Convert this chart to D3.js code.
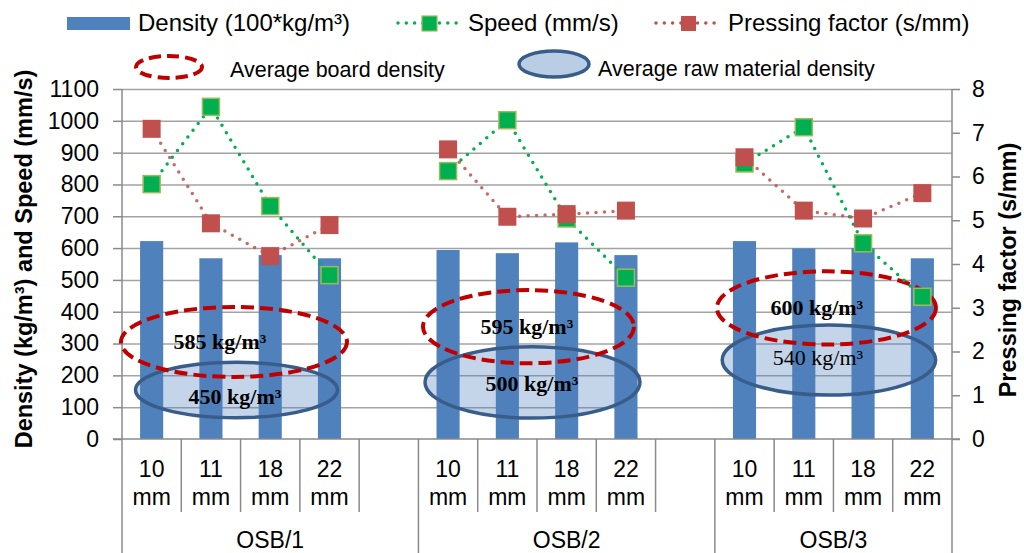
<!DOCTYPE html>
<html><head><meta charset="utf-8">
<script src="https://cdnjs.cloudflare.com/ajax/libs/d3/7.8.5/d3.min.js"></script>
<style>body{margin:0;background:#fff}svg{display:block;font-family:"Liberation Sans",Arial,sans-serif}</style>
</head><body><svg id="c" width="1024" height="553"></svg>
<script>
// ---- data ----
const groups = ["OSB/1", "OSB/2", "OSB/3"];
const thicknesses = ["10", "11", "18", "22"];
const unitLabel = "mm";
const density = [[622, 568, 578, 568], [594, 584, 618, 578], [622, 599, 600, 568]];
const speed = [[801, 1044, 732, 515], [842, 1002, 693, 507], [866, 980, 615, 447]];
const pressing = [[7.09, 4.93, 4.18, 4.89], [6.62, 5.08, 5.14, 5.22], [6.44, 5.22, 5.04, 5.62]];
const leftTicks = [0, 100, 200, 300, 400, 500, 600, 700, 800, 900, 1000, 1100];
const rightTicks = [0, 1, 2, 3, 4, 5, 6, 7, 8];
const seriesNames = ["Density (100*kg/m³)", "Speed (mm/s)", "Pressing factor (s/mm)"];
const noteNames = ["Average board density", "Average raw material density"];
// annotation ellipses: centre/radius in slot units (x) and left-axis units (y)
const boardNotes = [
  {label: "585 kg/m³", cx: 1.889, cy: 305, rx: 1.906, ry: 110, lx: 1.653, ly: 307},
  {label: "595 kg/m³", cx: 6.856, cy: 353, rx: 1.779, ry: 115, lx: 6.83, ly: 355},
  {label: "600 kg/m³", cx: 11.882, cy: 412, rx: 1.847, ry: 115, lx: 11.72, ly: 412}
];
const rawNotes = [
  {label: "450 kg/m³", cx: 1.931, cy: 154, rx: 1.703, ry: 87, lx: 1.906, ly: 135, bold: true},
  {label: "500 kg/m³", cx: 6.924, cy: 178, rx: 1.813, ry: 112, lx: 6.915, ly: 176, bold: true},
  {label: "540 kg/m³", cx: 11.924, cy: 248, rx: 1.8, ry: 110, lx: 11.74, ly: 255, bold: false}
];

// ---- layout ----
const svg = d3.select("#c");
const L = 122, R = 952, T = 89, B = 439;
const colBar = "#4F81BD", colSpeed = "#00B050", colPress = "#C0504D", colBoard = "#C00000", colRaw = "#385D8A";
const FONT = "Liberation Sans, Arial, sans-serif";

// slots: 4 thickness per group + blank between groups
const slots = [];
groups.forEach((g, gi) => {
  thicknesses.forEach((t, ti) => slots.push({id: g + "|" + t, g, gi, t, ti}));
  if (gi < groups.length - 1) slots.push({id: "blank" + gi, blank: true, gi});
});
const x = d3.scaleBand().domain(slots.map(s => s.id)).range([L, R]).paddingInner(0).paddingOuter(0);
const slotX = d3.scaleLinear().domain([0, slots.length]).range([L, R]);
const y = d3.scaleLinear().domain([0, 1100]).range([B, T]);
const y2 = d3.scaleLinear().domain([0, 8]).range([B, T]);
const bw = x.bandwidth();

// gridlines
svg.append("g").attr("transform", `translate(${L},0)`)
  .call(d3.axisLeft(y).tickValues(leftTicks.slice(1)).tickSize(-(R - L)).tickFormat(""))
  .call(g => g.select(".domain").remove())
  .call(g => g.selectAll("line").attr("stroke", "#a3a3a3").attr("stroke-width", 1.5));

// bars
const rows = [];
groups.forEach((g, gi) => thicknesses.forEach((t, ti) => rows.push({
  id: g + "|" + t, gi, ti, d: density[gi][ti], s: speed[gi][ti], p: pressing[gi][ti]})));
const barW = bw * 0.39;
svg.append("g").selectAll("rect").data(rows).join("rect")
  .attr("x", d => x(d.id) + (bw - barW) / 2).attr("width", barW)
  .attr("y", d => y(d.d)).attr("height", d => y(0) - y(d.d)).attr("fill", colBar);

// left axis
svg.append("g").attr("transform", `translate(${L},0)`)
  .call(d3.axisLeft(y).tickValues(leftTicks).tickSize(9).tickPadding(14).tickFormat(d3.format("d")))
  .call(g => g.select(".domain").remove())
  .call(g => g.selectAll("line").attr("stroke", "#8a8a8a").attr("stroke-width", 1.5))
  .call(g => g.selectAll("text").attr("font-size", 23).attr("fill", "#000").attr("font-family", FONT));
// right axis
svg.append("g").attr("transform", `translate(${R},0)`)
  .call(d3.axisRight(y2).tickValues(rightTicks).tickSize(8).tickPadding(12).tickFormat(d3.format("d")))
  .call(g => g.select(".domain").remove())
  .call(g => g.selectAll("line").attr("stroke", "#8a8a8a").attr("stroke-width", 1.5))
  .call(g => g.selectAll("text").attr("font-size", 23).attr("fill", "#000").attr("font-family", FONT));

// axis frame lines
const ax = svg.append("g").attr("stroke", "#8a8a8a").attr("stroke-width", 1.5);
ax.append("line").attr("x1", L).attr("x2", L).attr("y1", T).attr("y2", 553);
ax.append("line").attr("x1", R).attr("x2", R).attr("y1", T).attr("y2", 553);
ax.append("line").attr("x1", L - 9).attr("x2", R + 8).attr("y1", B).attr("y2", B);
// category separators
slots.forEach((s, i) => {
  if (i === 0) return;
  const xx = x(s.id);
  const full = !s.blank && s.ti === 0;
  ax.append("line").attr("x1", xx).attr("x2", xx).attr("y1", B).attr("y2", full ? 553 : 512);
});

// category labels
const cl = svg.append("g").attr("font-size", 23).attr("text-anchor", "middle").attr("fill", "#000");
slots.filter(s => !s.blank).forEach(s => {
  const cx = x(s.id) + bw / 2;
  cl.append("text").attr("x", cx).attr("y", 477).text(s.t);
  cl.append("text").attr("x", cx).attr("y", 505).text(unitLabel);
});
groups.forEach((g, gi) => {
  const first = x(g + "|" + thicknesses[0]);
  const last = x(g + "|" + thicknesses[thicknesses.length - 1]) + bw;
  const gEnd = gi < groups.length - 1 ? x("blank" + gi) + bw : last;
  cl.append("text").attr("x", (first + gEnd) / 2).attr("y", 548).text(g);
});

// annotation ellipses
function drawNotes(notes, raw) {
  const gN = svg.append("g");
  gN.selectAll("ellipse").data(notes).join("ellipse")
    .attr("cx", d => slotX(d.cx)).attr("cy", d => y(d.cy))
    .attr("rx", d => slotX(d.rx) - slotX(0)).attr("ry", d => y(0) - y(d.ry))
    .attr("fill", raw ? colBar : "none").attr("fill-opacity", raw ? 0.33 : 0)
    .attr("stroke", raw ? colRaw : colBoard).attr("stroke-width", raw ? 3.5 : 4)
    .attr("stroke-dasharray", raw ? null : "13 6");
  return gN;
}
drawNotes(rawNotes, true);
drawNotes(boardNotes, false);

// lines
const lineS = d3.line().x(d => x(d.id) + bw / 2).y(d => y(d.s));
const lineP = d3.line().x(d => x(d.id) + bw / 2).y(d => y2(d.p));
groups.forEach((g, gi) => {
  const rs = rows.filter(r => r.gi === gi);
  svg.append("path").attr("d", lineS(rs)).attr("fill", "none").attr("stroke", colSpeed)
    .attr("stroke-width", 3.5).attr("stroke-linecap", "round").attr("stroke-dasharray", "0 8.5");
});
const ms = 17;
svg.append("g").selectAll("rect").data(rows).join("rect")
  .attr("x", d => x(d.id) + bw / 2 - ms / 2).attr("y", d => y(d.s) - ms / 2)
  .attr("width", ms).attr("height", ms).attr("fill", colSpeed).attr("stroke", "#9BBB59").attr("stroke-width", 1.5);
groups.forEach((g, gi) => {
  const rs = rows.filter(r => r.gi === gi);
  svg.append("path").attr("d", lineP(rs)).attr("fill", "none").attr("stroke", colPress)
    .attr("stroke-opacity", 0.85)
    .attr("stroke-width", 3.5).attr("stroke-linecap", "round").attr("stroke-dasharray", "0 8.5");
});
svg.append("g").selectAll("rect").data(rows).join("rect")
  .attr("x", d => x(d.id) + bw / 2 - 9).attr("y", d => y2(d.p) - 9)
  .attr("width", 18).attr("height", 18).attr("fill", colPress);

// note labels
const nl = svg.append("g").attr("font-family", "Liberation Serif, Times New Roman, serif")
  .attr("font-size", 22).attr("text-anchor", "middle").attr("dominant-baseline", "central").attr("fill", "#000");
boardNotes.concat(rawNotes).forEach(d => {
  nl.append("text").attr("x", slotX(d.lx)).attr("y", y(d.ly))
    .attr("font-weight", d.bold === false ? "normal" : "bold").text(d.label);
});

// axis titles
svg.append("text").attr("transform", `translate(32,259) rotate(-90)`)
  .attr("text-anchor", "middle").attr("font-size", 23.5).attr("font-weight", "bold").attr("fill", "#000")
  .text("Density (kg/m³) and Speed (mm/s)");
svg.append("text").attr("transform", `translate(1016,270) rotate(-90)`)
  .attr("text-anchor", "middle").attr("font-size", 23.5).attr("font-weight", "bold").attr("fill", "#000")
  .text("Pressing factor (s/mm)");

// legend
const lg = svg.append("g").attr("fill", "#000");
lg.append("rect").attr("x", 67).attr("y", 17).attr("width", 63).attr("height", 13).attr("fill", colBar);
lg.append("text").attr("x", 138).attr("y", 31).attr("font-size", 24).text(seriesNames[0]);
lg.append("line").attr("x1", 398).attr("x2", 458).attr("y1", 23).attr("y2", 23)
  .attr("stroke", colSpeed).attr("stroke-width", 3.5).attr("stroke-linecap", "round").attr("stroke-dasharray", "0 8.3");
lg.append("rect").attr("x", 422).attr("y", 16).attr("width", 15).attr("height", 15)
  .attr("fill", colSpeed).attr("stroke", "#9BBB59").attr("stroke-width", 1.2);
lg.append("text").attr("x", 468).attr("y", 31).attr("font-size", 24).text(seriesNames[1]);
lg.append("line").attr("x1", 656).attr("x2", 718).attr("y1", 23).attr("y2", 23)
  .attr("stroke", colPress).attr("stroke-width", 3.5).attr("stroke-linecap", "round").attr("stroke-dasharray", "0 8.3");
lg.append("rect").attr("x", 681).attr("y", 16).attr("width", 15).attr("height", 15).attr("fill", colPress);
lg.append("text").attr("x", 728).attr("y", 31).attr("font-size", 24).text(seriesNames[2]);
lg.append("ellipse").attr("cx", 169).attr("cy", 67).attr("rx", 33).attr("ry", 11)
  .attr("fill", "none").attr("stroke", colBoard).attr("stroke-width", 4).attr("stroke-dasharray", "12 6");
lg.append("text").attr("x", 230).attr("y", 77).attr("font-size", 21.5).text(noteNames[0]);
lg.append("ellipse").attr("cx", 554).attr("cy", 64).attr("rx", 35).attr("ry", 13)
  .attr("fill", "#B9CDE5").attr("stroke", colRaw).attr("stroke-width", 3.5);
lg.append("text").attr("x", 598).attr("y", 76).attr("font-size", 21.5).text(noteNames[1]);
</script></body></html>
